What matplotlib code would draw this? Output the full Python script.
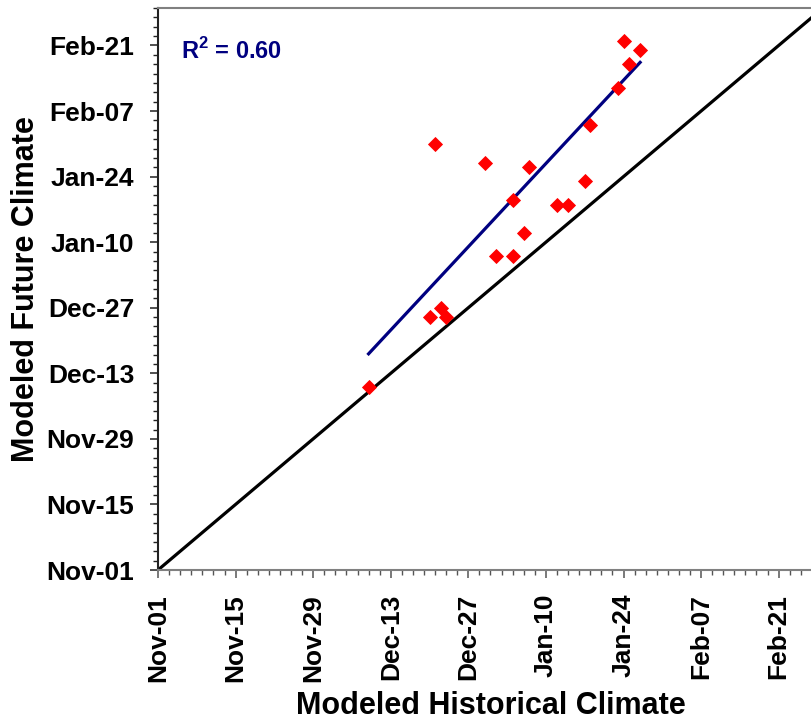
import numpy as np
import matplotlib
matplotlib.use("Agg")
import matplotlib.pyplot as plt

plt.rcParams['font.family'] = ['Liberation Sans', 'DejaVu Sans']
plt.rcParams['mathtext.fontset'] = 'custom'
plt.rcParams['mathtext.rm'] = 'Liberation Sans:bold'
plt.rcParams['mathtext.bf'] = 'Liberation Sans:bold'

# DATA (days after Nov-01)
hist_days   = [38, 49, 51, 52, 50, 59, 67, 64, 66, 61, 64, 72, 74, 77, 78, 83, 84, 85, 87]
future_days = [39, 54, 56, 54, 91, 87, 86, 79, 72, 67, 67, 78, 78, 83, 95, 103, 113, 108, 111]
tick_days   = [0, 14, 28, 42, 56, 70, 84, 98, 112]
tick_labels = ["Nov-01", "Nov-15", "Nov-29", "Dec-13", "Dec-27",
               "Jan-10", "Jan-24", "Feb-07", "Feb-21"]
# regression line as drawn in the chart
fit_slope     = 1.27
fit_intercept = -2.1
r2_label = "0.60"

x = np.array(hist_days, dtype=float)
y = np.array(future_days, dtype=float)
xfit = np.array([x.min(), x.max()])

fig = plt.figure(figsize=(8.12, 7.23), dpi=100)
ax = fig.add_axes([158 / 812, 153 / 723, 665 / 812, 562 / 723])

# 1:1 line
ax.plot([0, 120], [0, 120], color='black', lw=2.3, zorder=2)
# regression line
ax.plot(xfit, fit_slope * xfit + fit_intercept, color='#000080', lw=2.3, zorder=3)
ax.plot(x, y, 'D', color='red', markersize=6.8, markeredgewidth=0.6, zorder=4)

ax.set_xlim(0, 120)
ax.set_ylim(0, 120)
ax.set_xticks(tick_days)
ax.set_xticklabels(tick_labels, rotation=90, fontsize=19, fontweight='bold')
ax.set_yticks(tick_days)
ax.set_yticklabels(tick_labels, fontsize=19, fontweight='bold')
ax.set_xticks(np.arange(0, 121, 2), minor=True)
ax.set_yticks(np.arange(0, 121, 2), minor=True)

ax.tick_params(which='major', direction='out', length=5.6, width=1.1, pad=11.5)
ax.tick_params(which='minor', direction='out', length=3.8, width=1.0)
ax.tick_params(axis='x', which='both', colors='#555555', labelcolor='black')
ax.tick_params(axis='y', which='both', colors='#222222', labelcolor='black')

ax.spines['left'].set_color('#222222')
ax.spines['bottom'].set_color('#808080')
ax.spines['top'].set_color('#808080')
for s in ax.spines.values():
    s.set_linewidth(1.5)

ax.set_xlabel("Modeled Historical Climate", fontsize=22, fontweight='bold', labelpad=7)
ax.set_ylabel("Modeled Future Climate", fontsize=22, fontweight='bold', labelpad=4)

ax.text(0.035, 0.923, r"R$^{2}$ = " + r2_label, transform=ax.transAxes,
        fontsize=17, fontweight='bold', color='#000080', va='center', ha='left')

fig.savefig("out.png", dpi=100)
